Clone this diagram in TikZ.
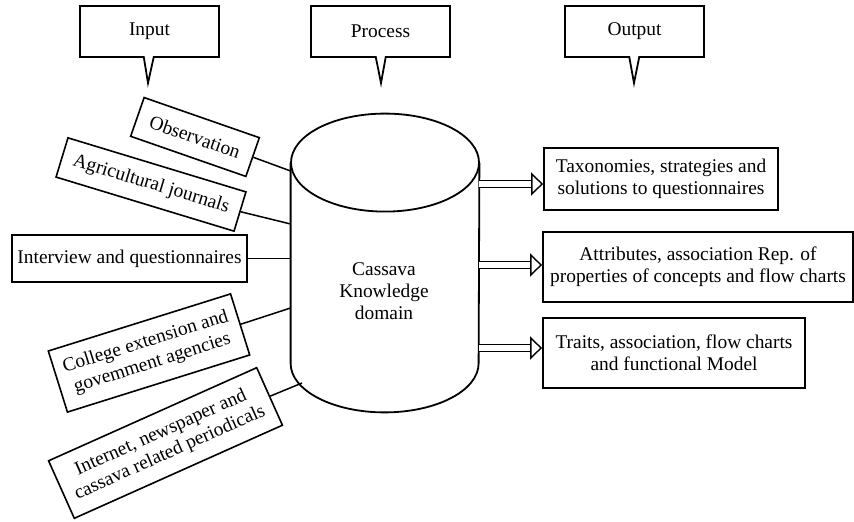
\documentclass[tikz,border=0pt]{standalone}
\usepackage{fontspec}
\setmainfont{Liberation Serif}
\usetikzlibrary{shapes.callouts,arrows.meta}

\begin{document}
\begin{tikzpicture}[x=0.5pt,y=-0.5pt,
    font=\fontsize{9.7}{11}\selectfont,
    stagebox/.style={rectangle callout,draw,line width=0.9pt,minimum width=69.5pt,
      minimum height=25.5pt,callout pointer width=5pt,inner sep=2pt},
    srcbox/.style={draw,line width=0.8pt,inner sep=2pt,align=center},
    resbox/.style={draw,line width=0.9pt,inner sep=2pt,align=center},
    cyl/.style={line width=0.9pt},
    link/.style={line width=0.75pt},
    outarrow/.style={double,double distance=2.6pt,line width=0.7pt,
      -{Triangle[open,length=6pt,width=11.5pt,fill=white]}}]
  \useasboundingbox (0,0) rectangle (854,522);
  % stage headings
  \node[stagebox,callout absolute pointer={(148,83)}] (inlabel)   at (149.5,31.5) {Input};
  \node[stagebox,callout absolute pointer={(381,83)}] (proclabel) at (380.5,31.5) {Process};
  \node[stagebox,callout absolute pointer={(634,83)}] (outlabel)  at (634.5,31.5) {Output};
  % knowledge store (body of the cylinder, ends drawn below)
  \node[minimum width=94pt,minimum height=100pt,inner sep=0pt] (kb) at (385,263) {};
  \draw[cyl] (kb.north west) -- (kb.south west)
    arc[start angle=180,end angle=360,x radius=47pt,y radius=24.5pt] -- (kb.north east);
  \draw[cyl] (kb.north) ellipse [x radius=47pt,y radius=24.5pt];
  \node[align=center] (kbtext) at (384,291) {Cassava\\Knowledge\\domain};
  % sources
  \node[srcbox,rotate=-19.2,minimum width=61pt,minimum height=20.5pt]  (obs)  at (195,137)   {Observation};
  \node[srcbox,rotate=-16.9,minimum width=93pt,minimum height=20.5pt]  (agri) at (151,184.5) {Agricultural journals};
  \node[srcbox,minimum width=117.5pt,minimum height=23.5pt]            (intv) at (129.5,258.5) {Interview and questionnaires};
  \node[srcbox,rotate=17.4,minimum width=95.5pt,minimum height=32pt]   (coll) at (149,353)   {College extension and\\govemment agencies};
  \node[srcbox,rotate=24.1,minimum width=114pt,minimum height=31.5pt]  (inet) at (165.5,443) {Internet, newspaper and\\cassava related periodicals};
  \coordinate (kbin1) at (kb.west |- 0,171);
  \coordinate (kbin2) at (kb.west |- 0,224);
  \coordinate (kbin4) at (kb.west |- 0,308);
  \coordinate (kbin5) at (302,383);
  \draw[link] (obs.east)  -- (kbin1);
  \draw[link] (agri.east) -- (kbin2);
  \draw[link] (intv.east) -- (intv.east -| kb.west);
  \draw[link] (coll.east) -- (kbin4);
  \draw[link] (inet.east) -- (kbin5);
  % results
  \node[resbox,minimum width=117pt,minimum height=31pt] (tax)   at (661,179) {Taxonomies, strategies and\\solutions to questionnaires};
  \node[resbox,minimum width=155pt,minimum height=35pt] (attr)  at (698,267) {Attributes, association Rep. of\\properties of concepts and flow charts};
  \node[resbox,minimum width=131pt,minimum height=35pt] (trait) at (674,353) {Traits, association, flow charts\\and functional Model};
  \draw[outarrow] (kb.east |- 0,184) -- (tax.west |- 0,184);
  \draw[outarrow] (kb.east |- 0,265) -- (attr.west |- 0,265);
  \draw[outarrow] (kb.east |- 0,348) -- (trait.west |- 0,348);
\end{tikzpicture}
\end{document}
